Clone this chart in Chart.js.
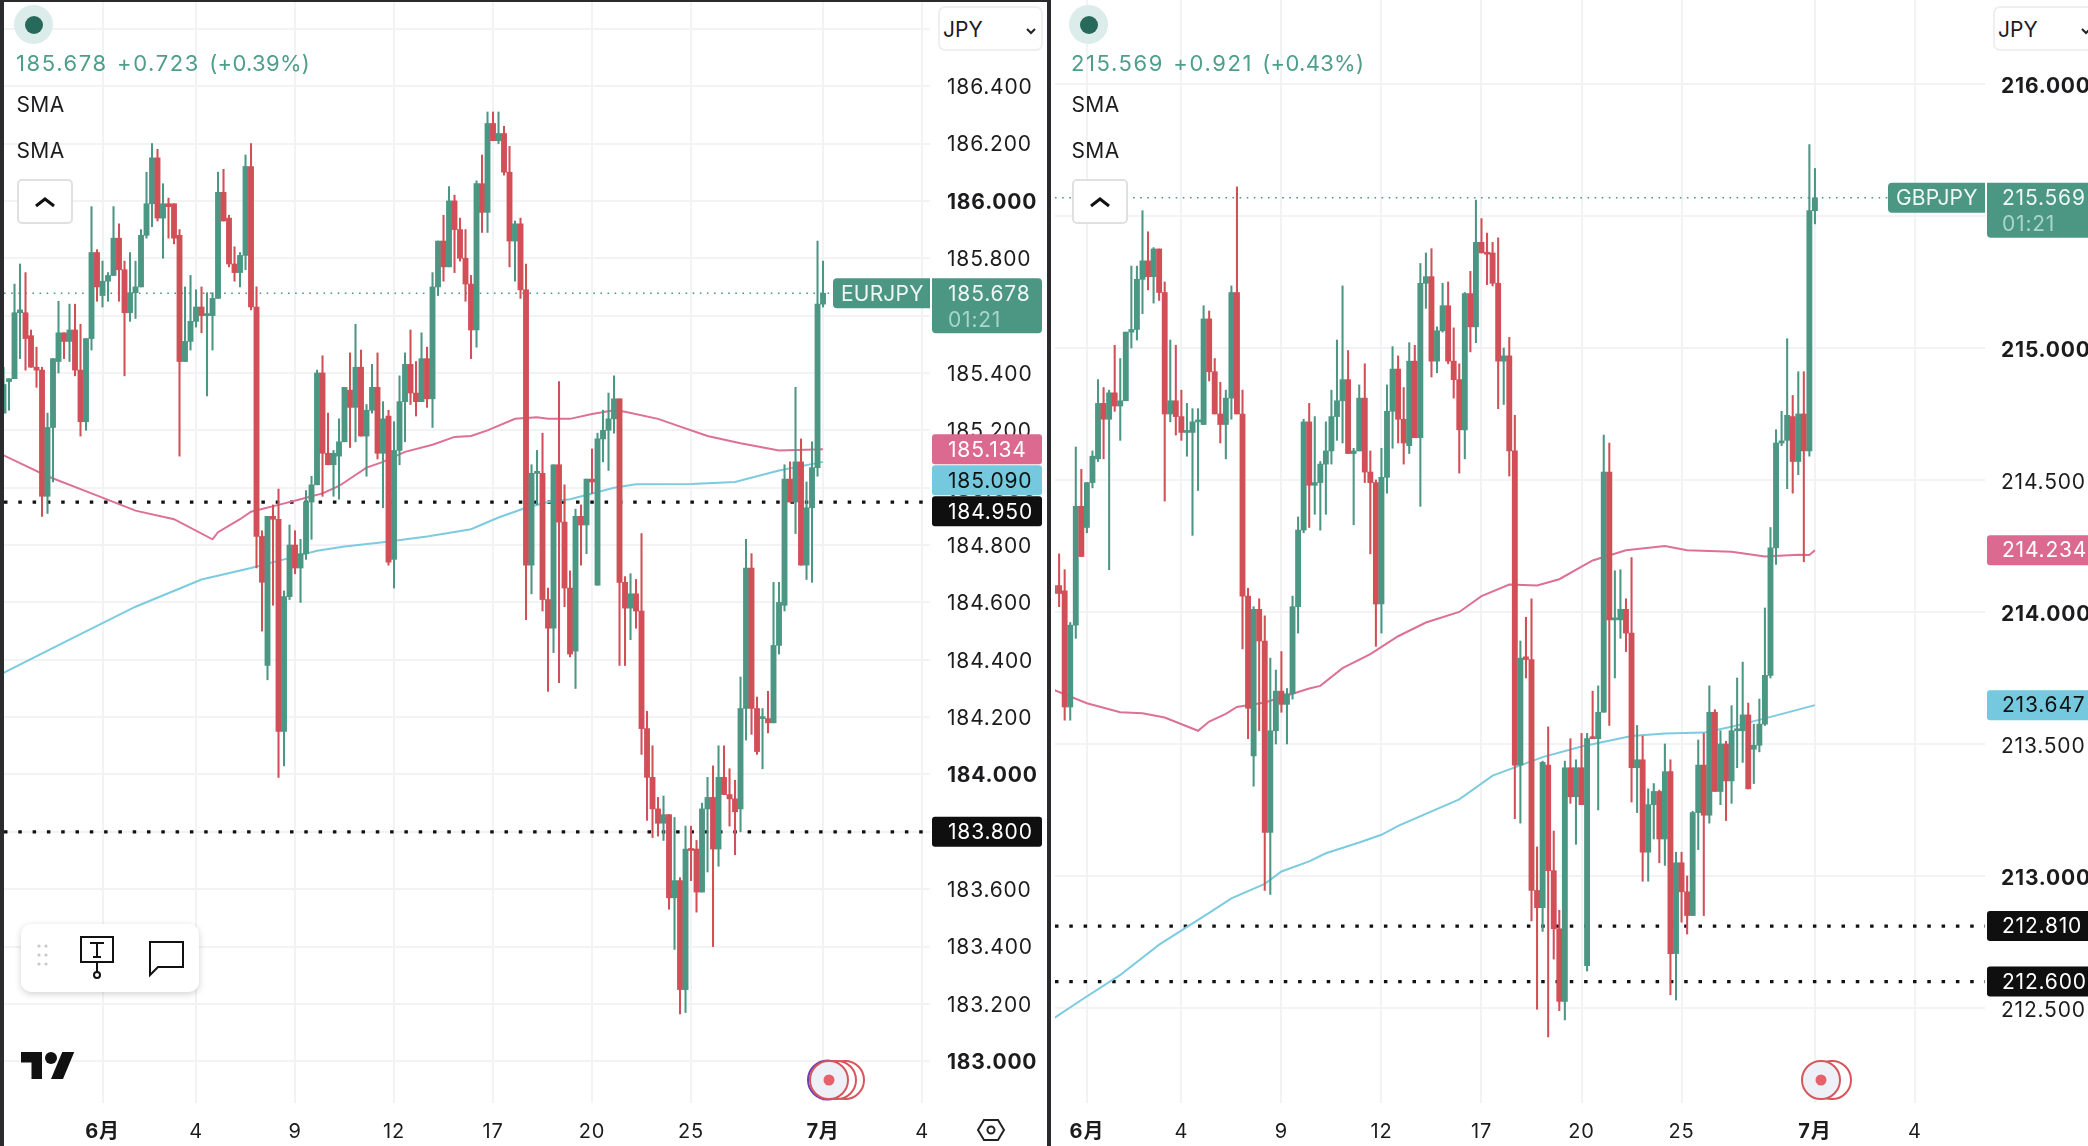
<!DOCTYPE html>
<html>
<head>
<meta charset="utf-8">
<title>EURJPY / GBPJPY</title>
<script src="https://cdn.jsdelivr.net/npm/chart.js@4/dist/chart.umd.min.js"></script>
<style>
  html, body { margin: 0; padding: 0; background: #fff; overflow: hidden; }
  body { width: 2088px; height: 1146px; position: relative; font-family: Inter, 'Noto Sans CJK JP', sans-serif; }
  canvas { position: absolute; top: 0; }
  .bar { position: absolute; background: #2b2b2d; }
  .abs { position: absolute; white-space: nowrap; line-height: 1; }
  .quote { top: 52px; font-size: 22px; color: #4f9e8b; letter-spacing: 1.6px; word-spacing: 1.5px; }
  .quote span { letter-spacing: .3px; }
  .sma { font-size: 21px; color: #1c1c1e; letter-spacing: .4px; }
  .collapse { top: 179px; width: 52px; height: 41px; border: 2px solid #e0e0e2; border-radius: 5px; background: #fff; }
  .collapse svg { position: absolute; left: 15px; top: 15px; }
  .halo { top: 5px; width: 39px; height: 39px; border-radius: 50%; background: #dcecea; }
  .dot { top: 16px; width: 18px; height: 18px; border-radius: 50%; background: #27695a; }
  .currency { top: 6px; height: 41px; border: 2px solid #efeff1; border-radius: 7px; background: #fff; box-sizing: content-box; }
  .currency span { position: absolute; left: 3px; top: 11px; font-size: 21px; color: #1c1c1e; line-height: 1; }
  .toolbar { left: 21px; top: 924px; width: 178px; height: 68px; background: #fff; border-radius: 10px; box-shadow: 0 2px 7px rgba(0,0,0,.18); }
</style>
</head>
<body>
<canvas id="eurChart" width="1044" height="1146" style="left:4px"></canvas>
<canvas id="gbpChart" width="1033" height="1146" style="left:1055px"></canvas>

<div class="bar" style="left:0;top:0;width:3.5px;height:1146px"></div>
<div class="bar" style="left:0;top:0;width:1050px;height:2px"></div>
<div class="bar" style="left:1047px;top:0;width:4px;height:1146px"></div>

<!-- EURJPY header -->
<div class="abs halo" style="left:14px"></div><div class="abs dot" style="left:25px"></div>
<div class="abs quote" style="left:16px">185.678 +0.723 <span>(+0.39%)</span></div>
<div class="abs sma" style="left:16.5px;top:94px">SMA</div>
<div class="abs sma" style="left:16.5px;top:140px">SMA</div>
<div class="abs collapse" style="left:17px"><svg width="22" height="12" viewBox="0 0 22 12"><path d="M2 10L11 3l9 7" fill="none" stroke="#111" stroke-width="3"/></svg></div>
<div class="abs currency" style="left:938px;width:101px"><span>JPY</span><svg style="position:absolute;left:85px;top:19px" width="12" height="8" viewBox="0 0 12 8"><path d="M2 2l4 4 4-4" fill="none" stroke="#222" stroke-width="2"/></svg></div>

<!-- GBPJPY header -->
<div class="abs halo" style="left:1069px"></div><div class="abs dot" style="left:1080px"></div>
<div class="abs quote" style="left:1071px">215.569 +0.921 <span>(+0.43%)</span></div>
<div class="abs sma" style="left:1071.5px;top:94px">SMA</div>
<div class="abs sma" style="left:1071.5px;top:140px">SMA</div>
<div class="abs collapse" style="left:1072px"><svg width="22" height="12" viewBox="0 0 22 12"><path d="M2 10L11 3l9 7" fill="none" stroke="#111" stroke-width="3"/></svg></div>
<div class="abs currency" style="left:1993px;width:101px"><span>JPY</span><svg style="position:absolute;left:85px;top:19px" width="12" height="8" viewBox="0 0 12 8"><path d="M2 2l4 4 4-4" fill="none" stroke="#222" stroke-width="2"/></svg></div>

<!-- drawing toolbar -->
<div class="abs toolbar">
  <svg width="178" height="68" viewBox="0 0 178 68" style="position:absolute;left:0;top:0">
    <g fill="#c9c9cc"><circle cx="18" cy="22" r="1.6"/><circle cx="25" cy="22" r="1.6"/><circle cx="18" cy="31" r="1.6"/><circle cx="25" cy="31" r="1.6"/><circle cx="18" cy="40" r="1.6"/><circle cx="25" cy="40" r="1.6"/></g>
    <g fill="none" stroke="#111" stroke-width="2">
      <rect x="60" y="13" width="32" height="25"/>
      <path d="M69 19h14M76 19v14M72 33h8M76 38v10"/>
      <circle cx="76" cy="51" r="3"/>
      <path d="M129 44V18h33v25h-25l-8 8z"/>
    </g>
  </svg>
</div>

<!-- TradingView mark -->
<svg class="abs" style="left:21px;top:1046px" width="54" height="42" viewBox="0 0 36 28"><path d="M14 22H7V11H0V4h14v18zM28 22h-8l7.5-18h8L28 22z" fill="#111"/><circle cx="20" cy="8" r="4" fill="#111"/></svg>

<!-- scale settings -->
<svg class="abs" style="left:976px;top:1118px" width="30" height="24" viewBox="0 0 30 24"><path d="M8 2h14l6 10-6 10H8L2 12z" fill="none" stroke="#222" stroke-width="2"/><circle cx="15" cy="12" r="3.5" fill="none" stroke="#222" stroke-width="2"/></svg>

<!-- bar replay badges -->
<svg class="abs" style="left:800px;top:1058px" width="68" height="44" viewBox="0 0 68 44">
  <circle cx="45" cy="22" r="19" fill="#fff" stroke="#d8555c" stroke-width="2"/>
  <circle cx="37" cy="22" r="19" fill="#fff" stroke="#d8555c" stroke-width="2"/>
  <circle cx="27.5" cy="22" r="19.5" fill="#eef0f7" stroke="#6a3fb5" stroke-width="2"/>
  <circle cx="29" cy="22" r="19" fill="#eef0f7" stroke="#d8555c" stroke-width="2"/>
  <circle cx="29" cy="22" r="5.5" fill="#e5616b"/>
</svg>
<svg class="abs" style="left:1798px;top:1058px" width="60" height="44" viewBox="0 0 60 44">
  <circle cx="34" cy="22" r="19" fill="#fff" stroke="#d8555c" stroke-width="2"/>
  <circle cx="23" cy="22" r="19" fill="#eef0f7" stroke="#d8555c" stroke-width="2"/>
  <circle cx="23" cy="22" r="5.5" fill="#e5616b"/>
</svg>

<script>
  'use strict';

  // EURJPY 4H candles
  const eurOpen = [
    185.26,185.37,185.38,185.61,185.61,185.53,185.42,185.41,184.97,185.21,
    185.44,185.54,185.51,185.55,185.41,185.23,185.52,185.82,185.67,185.72,
    185.74,185.87,185.76,185.61,185.68,185.70,185.88,185.99,186.15,185.94,
    185.99,185.99,185.88,185.44,185.51,185.58,185.63,185.60,185.60,185.66,
    186.03,185.94,185.78,185.75,185.81,186.12,185.63,184.83,184.38,184.90,
    184.89,184.15,184.62,184.80,184.72,184.77,184.95,185.01,185.40,185.12,
    185.08,185.11,185.16,185.34,185.28,185.42,185.18,185.27,185.35,185.12,
    185.25,184.75,185.13,185.30,185.43,185.33,185.30,185.45,185.31,185.70,
    185.86,185.77,186.00,185.90,185.80,185.71,185.55,186.06,185.96,186.27,
    186.21,186.235,186.10,185.86,185.92,185.69,184.73,185.05,185.05,184.61,
    184.51,185.08,184.88,184.65,184.43,184.90,184.87,185.03,184.66,185.17,
    185.20,185.24,185.31,184.67,184.58,184.63,184.57,184.16,183.99,183.88,
    183.83,183.86,183.57,183.63,183.25,183.74,183.74,183.59,183.88,183.92,
    183.74,183.99,183.93,183.915,183.88,184.23,184.72,184.23,184.195,184.195,
    184.18,184.45,184.59,185.03,184.95,185.09,184.73,184.93,185.07,185.64
  ];
  const eurHigh = [
    185.42,185.38,185.71,185.78,185.75,185.55,185.49,185.42,185.26,185.45,
    185.65,185.54,185.64,185.64,185.57,185.52,185.98,185.83,185.79,185.75,
    185.98,185.92,185.79,185.82,185.79,185.90,186.10,186.20,186.18,186.06,
    186.01,185.99,185.90,185.70,185.74,185.69,185.70,185.68,185.68,186.10,
    186.11,185.95,185.84,185.82,186.16,186.20,185.70,184.85,184.90,184.94,
    184.995,184.64,184.87,184.85,184.82,184.99,185.04,185.41,185.46,185.26,
    185.13,185.24,185.35,185.47,185.57,185.48,185.29,185.43,185.47,185.30,
    185.27,185.23,185.39,185.47,185.55,185.44,185.54,185.49,185.75,185.86,
    185.95,186.05,186.02,185.94,185.90,185.74,186.07,186.16,186.31,186.31,
    186.31,186.26,186.19,185.93,185.94,185.78,185.08,185.13,185.19,184.65,
    185.08,185.37,185.01,184.71,184.925,184.94,185.03,185.135,185.19,185.27,
    185.33,185.39,185.31,184.69,184.70,184.68,184.84,184.22,184.10,183.92,
    183.925,183.86,183.85,183.64,183.82,183.82,183.77,183.90,183.99,184.03,
    184.10,184.10,184.02,183.98,184.34,184.82,184.77,184.27,184.23,184.29,
    184.67,184.67,185.08,185.09,185.35,185.17,185.02,185.16,185.86,185.79
  ];
  const eurLow = [
    185.26,185.27,185.38,185.45,185.41,185.42,185.35,184.90,184.91,185.02,
    185.40,185.45,185.44,185.39,185.18,185.20,185.48,185.65,185.63,185.65,
    185.74,185.65,185.39,185.58,185.59,185.70,185.87,185.91,185.93,185.80,
    185.87,185.85,185.11,185.44,185.48,185.56,185.54,185.32,185.48,185.66,
    185.93,185.77,185.72,185.70,185.76,185.62,184.72,184.50,184.33,184.59,
    183.99,184.03,184.61,184.70,184.60,184.75,184.82,185.01,184.97,185.08,
    184.97,184.96,185.16,185.14,185.16,185.18,185.04,185.26,185.10,184.93,
    184.73,184.65,185.08,185.16,185.29,185.25,185.30,185.28,185.21,185.67,
    185.72,185.77,185.75,185.79,185.65,185.45,185.49,185.89,185.89,186.21,
    186.20,186.09,185.77,185.72,185.66,184.54,184.63,184.94,184.57,184.29,
    184.425,184.32,184.585,184.41,184.30,184.73,184.77,184.98,184.66,185.09,
    185.06,185.19,184.38,184.38,184.47,184.51,184.07,183.84,183.78,183.785,
    183.77,183.53,183.39,183.165,183.17,183.63,183.52,183.59,183.66,183.40,
    183.68,183.93,183.82,183.72,183.80,184.12,184.14,184.07,184.02,184.145,
    184.18,184.42,184.57,184.95,184.84,184.73,184.68,184.67,185.04,185.63
  ];
  const eurClose = [
    185.36,185.38,185.61,185.62,185.52,185.42,185.41,184.97,185.21,185.45,
    185.54,185.51,185.55,185.41,185.23,185.52,185.82,185.70,185.72,185.74,
    185.87,185.76,185.61,185.68,185.70,185.88,185.99,186.15,185.94,185.99,
    185.98,185.87,185.44,185.51,185.58,185.63,185.60,185.60,185.66,186.03,
    185.93,185.78,185.75,185.81,186.12,185.63,184.83,184.67,184.90,184.89,
    184.15,184.62,184.80,184.72,184.77,184.95,185.01,185.40,185.12,185.08,
    185.12,185.16,185.35,185.28,185.42,185.18,185.27,185.35,185.12,185.24,
    184.74,185.13,185.30,185.43,185.33,185.30,185.45,185.31,185.70,185.86,
    185.77,186.00,185.90,185.80,185.71,185.55,186.06,185.96,186.27,186.21,
    186.235,186.10,185.86,185.92,185.69,184.73,185.05,185.05,184.61,184.51,
    185.08,184.88,184.65,184.42,184.90,184.87,185.03,185.02,185.17,185.20,
    185.24,185.31,184.67,184.58,184.63,184.57,184.16,183.99,183.88,183.83,
    183.86,183.57,183.63,183.25,183.74,183.735,183.59,183.88,183.92,183.74,
    183.99,183.93,183.915,183.87,184.23,184.72,184.23,184.08,184.20,184.18,
    184.45,184.60,185.03,184.95,185.09,184.73,184.93,185.07,185.64,185.678
  ];

  // EURJPY moving averages, sampled at these candle indexes
  const eurSlowIdx = [0,8,16,24,31,38,39,43,45,50,54,58,61,66,69,73,78,82,85,88,93,97,99,103,107,111,113,119,122,128,134,141,149];
  const eurSlow = [185.113,185.04,184.98,184.92,184.89,184.82,184.845,184.89,184.916,184.94,184.96,184.98,185.006,185.07,185.09,185.125,185.15,185.177,185.18,185.20,185.24,185.246,185.24,185.24,185.257,185.27,185.265,185.24,185.22,185.18,185.155,185.13,185.134];
  const eurFastIdx = [0,12,24,36,45,51,57,62,69,77,85,90,95,99,103,107,111,115,125,133,141,149];
  const eurFast = [184.354,184.47,184.585,184.68,184.72,184.75,184.78,184.795,184.81,184.83,184.855,184.896,184.93,184.95,184.96,184.98,185.0,185.012,185.013,185.02,185.06,185.09];

  // GBPJPY 4H candles
  const gbpOpen = [
    214.07,214.10,214.08,213.64,213.95,214.40,214.32,214.49,214.58,214.79,
    214.73,214.83,214.78,214.80,215.06,215.07,215.26,215.33,215.27,215.375,
    215.21,214.75,214.80,214.74,214.68,214.68,214.72,214.71,215.11,214.91,
    214.75,214.71,214.81,215.21,214.75,214.06,213.455,214.01,213.89,213.165,
    213.55,213.70,213.65,213.69,214.02,214.31,214.72,214.48,214.49,214.56,
    214.61,214.74,214.80,214.88,214.60,214.61,214.81,214.53,214.49,214.03,
    214.51,214.76,214.92,214.73,214.63,214.95,214.66,215.245,215.27,214.95,
    215.065,215.16,214.95,214.88,214.69,215.206,215.08,215.40,215.36,215.36,
    215.245,214.95,214.97,214.61,213.42,213.83,213.82,212.945,212.88,213.42,
    213.02,212.80,212.525,213.41,213.30,213.41,212.66,213.525,213.52,213.62,
    214.53,213.97,213.97,214.01,213.92,213.41,213.44,213.09,213.27,213.32,
    213.14,213.395,212.706,213.05,212.94,212.85,213.24,213.42,213.23,213.62,
    213.32,213.50,213.36,213.55,213.55,213.61,213.48,213.495,213.575,213.76,
    214.243,214.64,214.65,214.74,214.57,214.75,214.61,215.52
  ];
  const gbpHigh = [
    214.10,214.22,214.16,213.96,214.625,214.54,214.49,214.61,214.88,214.85,
    214.84,215.01,214.96,215.06,215.31,215.31,215.52,215.44,215.38,215.375,
    215.25,215.03,215.01,214.84,214.79,214.77,214.77,215.16,215.14,214.96,
    214.87,214.84,215.235,215.61,214.84,214.09,214.02,214.05,213.985,213.825,
    213.78,213.85,213.71,214.06,214.36,214.73,214.79,214.74,214.57,214.72,
    214.84,215.03,215.235,214.99,214.62,214.86,214.94,214.61,214.50,214.62,
    214.86,215.005,214.97,214.85,215.02,215.01,215.32,215.36,215.376,215.08,
    215.245,215.25,215.076,214.94,215.21,215.29,215.56,215.49,215.435,215.40,
    215.417,215.00,215.04,214.745,213.89,213.98,214.05,213.11,213.435,213.565,
    213.17,212.87,213.435,213.52,213.44,213.54,213.54,213.70,213.72,214.67,
    214.64,214.156,214.16,214.05,214.206,213.57,213.53,213.33,213.35,213.325,
    213.50,213.44,213.09,213.09,213.0,213.245,213.515,213.54,213.72,213.63,
    213.55,213.51,213.645,213.75,213.81,213.655,213.575,213.67,214.015,214.32,
    214.69,214.76,215.035,214.82,214.91,214.91,215.77,215.68
  ];
  const gbpLow = [
    214.03,214.02,213.59,213.59,213.90,214.21,214.30,214.47,214.57,214.58,
    214.16,214.76,214.65,214.80,215.00,215.03,215.13,215.22,215.17,215.18,
    214.42,214.72,214.67,214.65,214.59,214.29,214.46,214.71,214.875,214.75,
    214.64,214.58,214.73,214.75,213.86,213.52,213.34,213.55,212.945,212.93,
    213.50,213.62,213.50,213.67,213.92,214.30,214.32,214.37,214.31,214.37,
    214.56,214.65,214.64,214.60,214.33,214.61,214.49,214.22,213.87,213.92,
    214.45,214.62,214.64,214.56,214.60,214.66,214.40,215.15,214.89,214.906,
    215.06,214.94,214.81,214.526,214.58,214.985,215.02,215.36,215.24,215.235,
    214.77,214.786,214.515,213.217,213.20,213.75,212.83,212.495,212.79,212.39,
    212.685,212.49,212.455,213.275,213.12,213.27,212.64,213.52,213.25,213.62,
    213.57,213.75,213.90,213.85,213.28,213.24,212.98,212.98,213.14,213.05,
    213.04,212.55,212.53,212.825,212.78,212.85,213.10,212.85,213.20,213.32,
    213.27,213.21,213.275,213.41,213.43,213.33,213.35,213.47,213.57,213.75,
    214.18,214.63,214.467,214.45,214.52,214.19,214.59,215.47
  ];
  const gbpClose = [
    214.10,214.07,213.64,213.95,214.40,214.21,214.49,214.59,214.79,214.73,
    214.83,214.78,214.80,215.06,215.07,215.26,215.33,215.27,215.375,215.21,
    214.75,214.80,214.74,214.68,214.68,214.72,214.72,215.11,214.91,214.75,
    214.71,214.81,215.21,214.75,214.06,213.635,214.01,213.89,213.165,213.55,
    213.70,213.65,213.69,214.02,214.31,214.72,214.48,214.49,214.56,214.61,
    214.74,214.80,214.88,214.60,214.61,214.81,214.53,214.49,214.03,214.51,
    214.76,214.92,214.73,214.64,214.95,214.66,215.245,215.27,214.95,215.065,
    215.16,214.95,214.88,214.69,215.206,215.08,215.40,215.36,215.355,215.245,
    214.95,214.97,214.61,213.42,213.825,213.82,212.945,212.88,213.43,213.02,
    212.80,212.525,213.41,213.30,213.41,213.27,213.52,213.52,213.62,214.53,
    213.97,213.97,214.01,213.92,213.41,213.44,213.09,213.27,213.32,213.14,
    213.395,212.706,213.05,212.94,212.85,213.24,213.42,213.23,213.62,213.32,
    213.50,213.36,213.55,213.55,213.61,213.33,213.495,213.575,213.76,214.243,
    214.64,214.648,214.745,214.57,214.75,214.61,215.52,215.569
  ];

  // GBPJPY moving averages
  const gbpSlowIdx = [0,6,12,16,20,26,28,31,33,38,43,46,48,52,57,62,67,73,77,82,87,91,97,103,110,114,122,128,134,136,137];
  const gbpSlow = [213.705,213.654,213.62,213.616,213.60,213.55,213.585,213.614,213.64,213.657,213.69,213.71,213.72,213.787,213.84,213.908,213.96,214.0,214.06,214.104,214.10,214.124,214.195,214.234,214.25,214.234,214.228,214.21,214.217,214.216,214.234];
  const gbpFastIdx = [0,5,12,19,28,32,38,41,46,49,55,59,62,73,79,88,95,104,110,117,122,128,134,137];
  const gbpFast = [212.46,212.53,212.625,212.74,212.86,212.915,212.97,213.017,213.055,213.086,213.127,213.156,213.19,213.29,213.38,213.45,213.49,213.53,213.54,213.543,213.565,213.597,213.63,213.647];

  // Axis ticks
  const eurPriceTicks = [186.6,186.4,186.2,186.0,185.8,185.6,185.4,185.2,185.0,184.8,184.6,184.4,184.2,184.0,183.8,183.6,183.4,183.2,183.0];
  const gbpPriceTicks = [216.0,215.5,215.0,214.5,214.0,213.5,213.0,212.5];
  const eurDateIdx = [18,35,53,71,89,107,125,149,167];
  const gbpDateIdx = [6,23,41,59,77,95,113,137,155];
  const dateLabels = ['6月','4','9','12','17','20','25','7月','4'];

  // Horizontal levels
  const eurLevels = [184.95, 183.8];
  const gbpLevels = [212.81, 212.6];
  const eurLast = 185.678;
  const gbpLast = 215.569;

  const GREEN = '#4c9684';
  const RED = '#d14f57';
  const PINK = '#dd7095';
  const BLUE = '#7ccbe0';
  const GRID = '#f3f3f5';
  const FONT = "Inter, 'Noto Sans CJK JP', sans-serif";

  // Price labels are drawn slightly tracked
  const trackedText = {
    id: 'trackedText',
    beforeDraw(chart) { chart.ctx.letterSpacing = '0.8px'; }
  };

  // Price tags on the right of the plot, pushed down when they would overlap
  const priceTags = {
    id: 'priceTags',
    afterDraw(chart, args, opts) {
      const { ctx, chartArea, scales } = chart;
      const left = chartArea.right + 2;
      const textX = chartArea.right + opts.textOffset;
      ctx.save();
      ctx.font = '21px ' + FONT;
      ctx.textBaseline = 'middle';
      ctx.textAlign = 'left';

      // last price with symbol and countdown
      const lastY = scales.y.getPixelForValue(opts.last);
      ctx.fillStyle = GREEN;
      ctx.beginPath();
      ctx.roundRect(chartArea.right - 97, lastY - 15, 97, 30, [4, 0, 0, 4]);
      ctx.fill();
      ctx.beginPath();
      ctx.roundRect(left, lastY - 15, 110, 55, [0, 4, 4, 4]);
      ctx.fill();
      ctx.fillStyle = '#eef7f4';
      ctx.fillText(opts.last.toFixed(3), textX, lastY + 1);
      ctx.letterSpacing = '0.2px';
      ctx.fillText(opts.symbol, chartArea.right - 89, lastY + 1);
      ctx.letterSpacing = '0.8px';
      ctx.fillStyle = '#a9d6ca';
      ctx.fillText('01:21', textX, lastY + 27);

      let bottom = -Infinity;
      opts.tags.forEach(tag => {
        const y = Math.max(scales.y.getPixelForValue(tag.value), bottom + 16);
        ctx.fillStyle = tag.fill;
        ctx.beginPath();
        ctx.roundRect(left, y - 15, 110, 30, 3);
        ctx.fill();
        ctx.fillStyle = tag.text;
        ctx.fillText(tag.value.toFixed(3), textX, y + 1);
        bottom = y + 15;
      });
      ctx.restore();
    }
  };

  function levelDataset(value, xMin, xMax, color, width, dash) {
    return {
      type: 'line',
      data: [{ x: xMin, y: value }, { x: xMax, y: value }],
      borderColor: color,
      borderWidth: width,
      borderDash: dash,
      pointRadius: 0,
      order: 6
    };
  }

  function smaDataset(idx, values, color) {
    return {
      type: 'line',
      data: idx.map((x, i) => ({ x, y: values[i] })),
      borderColor: color,
      borderWidth: 2,
      pointRadius: 0,
      tension: 0,
      order: 4
    };
  }

  function candleChart(id, cfg) {
    const candleColor = cfg.open.map((o, i) => cfg.close[i] >= o ? GREEN : RED);
    const wicks = {
      data: cfg.open.map((o, i) => ({ x: i, y: [cfg.low[i], cfg.high[i]] })),
      backgroundColor: candleColor,
      barThickness: 1.4,
      grouped: false,
      order: 2
    };
    const bodies = {
      data: cfg.open.map((o, i) => ({ x: i, y: [o, cfg.close[i]] })),
      backgroundColor: candleColor,
      barThickness: 5.2,
      minBarLength: 2,
      grouped: false,
      order: 1
    };

    return new Chart(document.getElementById(id), {
      type: 'bar',
      data: {
        datasets: [
          ...cfg.levels.map(v => levelDataset(v, cfg.xMin, cfg.xMax, '#111', 3.2, [3.5, 10.8])),
          levelDataset(cfg.last, cfg.xMin, cfg.xMax, GREEN, 1.4, [1.6, 5.5]),
          smaDataset(cfg.slowIdx, cfg.slow, PINK),
          smaDataset(cfg.fastIdx, cfg.fast, BLUE),
          wicks,
          bodies
        ]
      },
      options: {
        responsive: false,
        animation: false,
        events: [],
        layout: { padding: 0 },
        plugins: {
          legend: { display: false },
          tooltip: { enabled: false },
          priceTags: { last: cfg.last, symbol: cfg.symbol, tags: cfg.tags, textOffset: cfg.labelGap }
        },
        scales: {
          x: {
            type: 'linear',
            offset: false,
            min: cfg.xMin,
            max: cfg.xMax,
            border: { display: false },
            grid: { color: GRID, lineWidth: 2, drawTicks: false, offset: false },
            afterBuildTicks(scale) {
              scale.ticks = cfg.dateIdx.map(value => ({ value }));
            },
            afterFit(scale) {
              scale.height = 43;
              scale.paddingLeft = 0;
              scale.paddingRight = 0;
            },
            ticks: {
              autoSkip: false,
              maxRotation: 0,
              padding: 17,
              color: '#1c1c1e',
              font: ctx => ({
                family: FONT,
                size: 20,
                weight: ctx.tick && dateLabels[cfg.dateIdx.indexOf(ctx.tick.value)].includes('月') ? '700' : '400'
              }),
              callback: value => dateLabels[cfg.dateIdx.indexOf(value)]
            }
          },
          y: {
            position: 'right',
            min: cfg.yMin,
            max: cfg.yMax,
            border: { display: false },
            grid: { color: GRID, lineWidth: 2, drawTicks: false },
            afterBuildTicks(scale) {
              scale.ticks = cfg.priceTicks.map(value => ({ value }));
            },
            afterFit(scale) {
              scale.width = cfg.axisWidth;
              scale.paddingTop = 0;
              scale.paddingBottom = 0;
            },
            ticks: {
              autoSkip: false,
              padding: cfg.labelGap - 1,
              labelOffset: cfg.labelShift,
              color: '#1c1c1e',
              font: ctx => ({
                family: FONT,
                size: 21,
                weight: ctx.tick && Number.isInteger(ctx.tick.value) ? '700' : '400'
              }),
              callback: value => value.toFixed(3)
            }
          }
        }
      },
      plugins: [trackedText, priceTags]
    });
  }

  candleChart('eurChart', {
    symbol: 'EURJPY', open: eurOpen, high: eurHigh, low: eurLow, close: eurClose,
    slowIdx: eurSlowIdx, slow: eurSlow, fastIdx: eurFastIdx, fast: eurFast,
    priceTicks: eurPriceTicks, dateIdx: eurDateIdx, levels: eurLevels, last: eurLast,
    tags: [
      { value: eurSlow[eurSlow.length - 1], fill: '#dc6a90', text: '#fff' },
      { value: eurFast[eurFast.length - 1], fill: '#74c9df', text: '#111' },
      { value: eurLevels[0], fill: '#0f0f10', text: '#fff' },
      { value: eurLevels[1], fill: '#0f0f10', text: '#fff' }
    ],
    xMin: 0.09, xMax: 168.45, yMin: 182.8545, yMax: 186.7005, axisWidth: 118, labelGap: 18, labelShift: 1.5
  });

  candleChart('gbpChart', {
    symbol: 'GBPJPY', open: gbpOpen, high: gbpHigh, low: gbpLow, close: gbpClose,
    slowIdx: gbpSlowIdx, slow: gbpSlow, fastIdx: gbpFastIdx, fast: gbpFast,
    priceTicks: gbpPriceTicks, dateIdx: gbpDateIdx, levels: gbpLevels, last: gbpLast,
    tags: [
      { value: gbpSlow[gbpSlow.length - 1], fill: '#dc6a90', text: '#fff' },
      { value: gbpFast[gbpFast.length - 1], fill: '#74c9df', text: '#111' },
      { value: gbpLevels[0], fill: '#0f0f10', text: '#fff' },
      { value: gbpLevels[1], fill: '#0f0f10', text: '#fff' }
    ],
    xMin: 0.26, xMax: 167.6, yMin: 212.14, yMax: 216.318, axisWidth: 103, labelGap: 17, labelShift: 2.5
  });
</script>
</body>
</html>
